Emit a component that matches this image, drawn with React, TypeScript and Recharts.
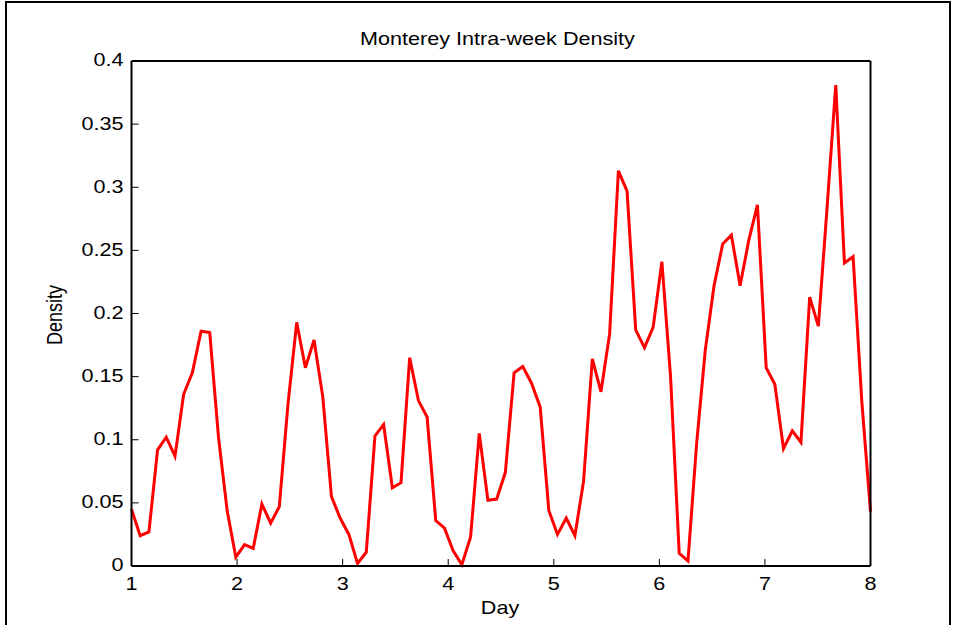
import React from 'react';
import { LineChart, Line, XAxis, YAxis } from 'recharts';

// sample times (day of week, 1 = start of week)
const days = [
  1.0, 1.082, 1.165, 1.247, 1.329, 1.412, 1.494, 1.576, 1.659, 1.741,
  1.824, 1.906, 1.988, 2.071, 2.153, 2.235, 2.318, 2.4, 2.482, 2.565,
  2.647, 2.729, 2.812, 2.894, 2.976, 3.059, 3.141, 3.224, 3.306, 3.388,
  3.471, 3.553, 3.635, 3.718, 3.8, 3.882, 3.965, 4.047, 4.129, 4.212,
  4.294, 4.376, 4.459, 4.541, 4.624, 4.706, 4.788, 4.871, 4.953, 5.035,
  5.118, 5.2, 5.282, 5.365, 5.447, 5.529, 5.612, 5.694, 5.776, 5.859,
  5.941, 6.024, 6.106, 6.188, 6.271, 6.353, 6.435, 6.518, 6.6, 6.682,
  6.765, 6.847, 6.929, 7.012, 7.094, 7.176, 7.259, 7.341, 7.424, 7.506,
  7.588, 7.671, 7.753, 7.835, 7.918, 8.0,
];

const density = [
  0.045, 0.024, 0.027, 0.092, 0.102, 0.087, 0.136, 0.153, 0.186, 0.185,
  0.102, 0.044, 0.007, 0.017, 0.014, 0.049, 0.034, 0.047, 0.128, 0.193,
  0.157, 0.179, 0.134, 0.055, 0.038, 0.025, 0.002, 0.011, 0.103, 0.112,
  0.062, 0.066, 0.165, 0.131, 0.118, 0.036, 0.03, 0.012, 0.001, 0.023,
  0.105, 0.052, 0.053, 0.074, 0.153, 0.158, 0.145, 0.126, 0.044, 0.025,
  0.038, 0.024, 0.067, 0.164, 0.138, 0.184, 0.313, 0.297, 0.187, 0.173,
  0.189, 0.241, 0.15, 0.01, 0.004, 0.097, 0.171, 0.222, 0.255, 0.262,
  0.222, 0.258, 0.286, 0.157, 0.144, 0.093, 0.107, 0.098, 0.213, 0.19,
  0.283, 0.381, 0.24, 0.245, 0.13, 0.043,
];

const dayTicks = [1, 2, 3, 4, 5, 6, 7, 8];
const densityTicks = [0, 0.05, 0.1, 0.15, 0.2, 0.25, 0.3, 0.35, 0.4];

const data = days.map((day, i) => ({ day, density: density[i] }));

const FONT = '"Liberation Sans", Arial, Helvetica, sans-serif';
const FONT_SIZE = 18;
// text in this figure is drawn a bit wider than normal
const STRETCH = 1.2;

function StretchedTick(props: any) {
  const { x, y, payload, textAnchor, dy } = props;
  return (
    <text
      transform={`translate(${x},${y}) scale(${STRETCH},1)`}
      textAnchor={textAnchor}
      dy={dy}
      fontSize={FONT_SIZE}
      fontFamily={FONT}
      fill="#000"
    >
      {String(payload.value)}
    </text>
  );
}

const axisLine = { stroke: '#000', strokeWidth: 2 };
const tickLine = { stroke: '#000', strokeWidth: 1 };

export default function App() {
  return (
    <div style={{ position: 'absolute', left: 0, top: 0, width: 954, height: 625, background: '#fff' }}>
      <LineChart
        width={954}
        height={625}
        data={data}
        margin={{ top: 60, right: 82.5, bottom: 29, left: 71.5 }}
      >
        <XAxis
          dataKey="day"
          type="number"
          domain={[1, 8]}
          ticks={dayTicks}
          interval={0}
          height={30}
          axisLine={axisLine}
          tickLine={tickLine}
          tickSize={-7}
          tickMargin={18}
          tick={(p: any) => <StretchedTick {...p} dy="0.71em" />}
        />
        <XAxis
          xAxisId="top"
          orientation="top"
          type="number"
          domain={[1, 8]}
          ticks={dayTicks}
          interval={0}
          height={1}
          axisLine={axisLine}
          tickLine={tickLine}
          tickSize={-7}
          tick={false}
        />
        <YAxis
          type="number"
          domain={[0, 0.4]}
          ticks={densityTicks}
          interval={0}
          width={60}
          axisLine={axisLine}
          tickLine={tickLine}
          tickSize={-7}
          tickMargin={15}
          tick={(p: any) => <StretchedTick {...p} dy="0.3em" />}
        />
        <YAxis
          yAxisId="right"
          orientation="right"
          type="number"
          domain={[0, 0.4]}
          ticks={densityTicks}
          interval={0}
          width={1}
          axisLine={axisLine}
          tickLine={tickLine}
          tickSize={-7}
          tick={false}
        />
        <Line
          type="linear"
          dataKey="density"
          stroke="#ff0000"
          strokeWidth={3}
          dot={false}
          activeDot={false}
          isAnimationActive={false}
        />
      </LineChart>

      {/* title, axis labels and the figure frame */}
      <svg
        width={954}
        height={625}
        style={{ position: 'absolute', left: 0, top: 0, pointerEvents: 'none' }}
        fontFamily={FONT}
        fontSize={FONT_SIZE}
      >
        <text transform={`translate(497.5,45) scale(${STRETCH},1)`} textAnchor="middle" fill="#000">
          Monterey Intra-week Density
        </text>
        <text transform={`translate(500,613.5) scale(${STRETCH},1)`} textAnchor="middle" fill="#000">
          Day
        </text>
        <text transform={`translate(61.5,315) rotate(-90) scale(1,${STRETCH})`} textAnchor="middle" fill="#000">
          Density
        </text>
        <line x1={6} y1={2} x2={6} y2={625} stroke="#000" strokeWidth={2} />
        <line x1={5} y1={2} x2={951} y2={2} stroke="#000" strokeWidth={2} />
        <line x1={950} y1={2} x2={950} y2={625} stroke="#000" strokeWidth={2} />
      </svg>
    </div>
  );
}
